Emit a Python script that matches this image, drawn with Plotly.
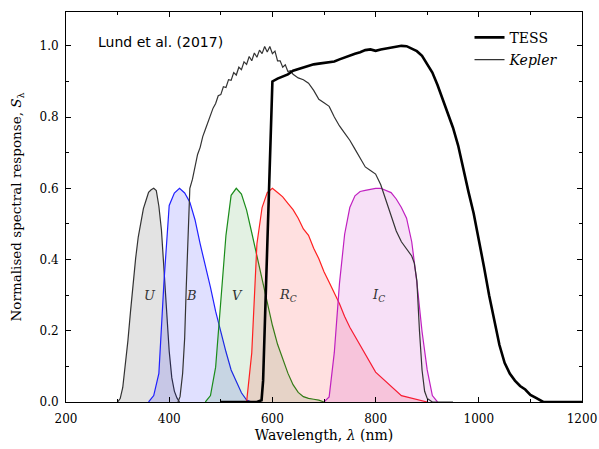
import plotly.graph_objects as go

# ---------------- data ----------------
u_wl = [300, 305, 310, 315, 320, 325, 330, 335, 340, 345, 350, 355, 360, 365, 370, 375, 380, 385, 390, 395, 400, 405, 410, 415, 420]
u_s = [0.0, 0.016, 0.068, 0.167, 0.287, 0.423, 0.560, 0.673, 0.772, 0.841, 0.905, 0.943, 0.981, 0.993, 1.0, 0.989, 0.916, 0.804, 0.625, 0.423, 0.238, 0.114, 0.051, 0.019, 0.0]

b_wl = [360, 370, 380, 390, 400, 410, 420, 430, 440, 450, 460, 470, 480, 490, 500, 510, 520, 530, 540, 550, 560]
b_s = [0.0, 0.030, 0.134, 0.567, 0.920, 0.978, 1.0, 0.978, 0.935, 0.853, 0.740, 0.640, 0.536, 0.424, 0.325, 0.235, 0.150, 0.095, 0.043, 0.009, 0.0]

v_wl = [470, 480, 490, 500, 510, 520, 530, 540, 550, 560, 570, 580, 590, 600, 610, 620, 630, 640, 650, 660, 670, 680, 690, 700]
v_s = [0.0, 0.030, 0.163, 0.458, 0.780, 0.967, 1.0, 0.973, 0.898, 0.792, 0.684, 0.574, 0.461, 0.359, 0.270, 0.197, 0.135, 0.081, 0.045, 0.025, 0.017, 0.013, 0.009, 0.0]

r_wl = [550, 560, 570, 580, 590, 600, 610, 620, 630, 640, 650, 660, 670, 680, 690, 700, 710, 720, 730, 740, 750, 800, 850, 900]
r_s = [0.0, 0.23, 0.74, 0.91, 0.98, 1.0, 0.98, 0.96, 0.93, 0.90, 0.86, 0.81, 0.78, 0.72, 0.67, 0.61, 0.56, 0.51, 0.46, 0.40, 0.35, 0.14, 0.03, 0.0]

i_wl = [700, 710, 720, 730, 740, 750, 760, 770, 780, 790, 800, 810, 820, 830, 840, 850, 860, 870, 880, 890, 900, 910, 920]
i_s = [0.0, 0.024, 0.232, 0.555, 0.785, 0.910, 0.965, 0.985, 0.990, 0.995, 1.0, 1.0, 0.990, 0.980, 0.950, 0.910, 0.860, 0.750, 0.560, 0.330, 0.150, 0.030, 0.0]

filter_peak = 0.6

kepler_wl = [417, 421, 426, 430, 433, 436, 440, 445, 450, 455, 460, 465, 470, 475, 480, 485, 490, 495, 500, 505,
             510, 515, 520, 525, 530, 535, 540, 545, 550, 555, 560, 565, 570, 575, 580, 585, 590, 595, 600, 605,
             610, 615, 620, 625, 630, 635, 640, 650, 660, 670, 680, 690, 700, 710, 720, 730, 740, 750, 760, 770,
             780, 790, 800, 810, 820, 830, 840, 850, 860, 870, 875, 880, 885, 890, 895, 900, 910, 950]
kepler_s = [0.0, 0.015, 0.08, 0.18, 0.32, 0.46, 0.60, 0.625, 0.665, 0.695, 0.715, 0.745, 0.765, 0.785, 0.805, 0.825, 0.838, 0.86, 0.863, 0.885,
            0.883, 0.905, 0.903, 0.925, 0.918, 0.94, 0.933, 0.955, 0.948, 0.97, 0.958, 0.98, 0.968, 0.988, 0.978, 0.998, 0.983, 0.998, 0.978, 0.985,
            0.958, 0.958, 0.94, 0.947, 0.928, 0.93, 0.92, 0.91, 0.905, 0.895, 0.875, 0.85, 0.84, 0.83, 0.80, 0.775, 0.755, 0.735, 0.71, 0.685,
            0.66, 0.65, 0.64, 0.61, 0.565, 0.52, 0.48, 0.45, 0.43, 0.41, 0.39, 0.34, 0.20, 0.09, 0.03, 0.01, 0.0, 0.0]

tess_wl = [500, 570, 579, 582, 586, 590, 594, 597, 600, 610, 620, 630, 640, 650, 660, 670, 680, 690, 700, 710,
           720, 730, 740, 750, 760, 770, 780, 790, 800, 810, 820, 830, 840, 850, 860, 870, 880, 890, 900, 910,
           920, 930, 940, 950, 960, 970, 980, 990, 1000, 1010, 1020, 1030, 1040, 1050, 1060, 1070, 1080, 1090, 1100, 1110,
           1125, 1200]
tess_s = [0.0, 0.0, 0.005, 0.06, 0.25, 0.45, 0.66, 0.80, 0.90, 0.908, 0.914, 0.92, 0.93, 0.935, 0.94, 0.945, 0.948, 0.95, 0.952, 0.955,
          0.956, 0.962, 0.968, 0.972, 0.978, 0.982, 0.988, 0.99, 0.986, 0.99, 0.992, 0.995, 0.998, 1.0, 0.999, 0.992, 0.985, 0.972, 0.95, 0.925,
          0.89, 0.85, 0.815, 0.77, 0.72, 0.65, 0.59, 0.53, 0.46, 0.38, 0.30, 0.23, 0.16, 0.11, 0.08, 0.06, 0.045, 0.035, 0.02, 0.012,
          0.0, 0.0]

filters = [
    ("U", u_wl, u_s, "#333333", "rgba(0,0,0,0.11)"),
    ("B", b_wl, b_s, "#2020ff", "rgba(0,0,255,0.12)"),
    ("V", v_wl, v_s, "#1a8c1a", "rgba(0,128,0,0.11)"),
    ("R", r_wl, r_s, "#ff2020", "rgba(255,0,0,0.12)"),
    ("I", i_wl, i_s, "#c020c0", "rgba(191,0,191,0.12)"),
]

label_text = ["<i>U</i>", "<i>B</i>", "<i>V</i>", "<i>R</i><sub><i>C</i></sub>", "<i>I</i><sub><i>C</i></sub>"]
label_x = [363, 444, 533, 630, 805]
label_y = [0.30, 0.30, 0.30, 0.30, 0.30]

fig = go.Figure()
for name, wl, s, lc, fc in filters:
    fig.add_trace(go.Scatter(x=wl, y=[v * filter_peak for v in s], mode="lines",
                             line=dict(color=lc, width=1.2), fill="tozeroy", fillcolor=fc,
                             showlegend=False, hoverinfo="skip"))

fig.add_trace(go.Scatter(x=kepler_wl, y=kepler_s, mode="lines", name="<i>Kepler</i>",
                         legendgroup="k", legendrank=2,
                         line=dict(color="#333333", width=1.2)))
fig.add_trace(go.Scatter(x=tess_wl, y=tess_s, mode="lines", name="TESS",
                         legendgroup="t", legendrank=1,
                         line=dict(color="black", width=2.6)))

for t, x, y in zip(label_text, label_x, label_y):
    fig.add_annotation(x=x, y=y, text=t, showarrow=False,
                       font=dict(family="DejaVu Serif", size=13, color="#333333"))

fig.add_annotation(x=0.058, y=0.923, xref="paper", yref="paper", xanchor="left", yanchor="middle",
                   text="Lund et al. (2017)", showarrow=False,
                   font=dict(family="DejaVu Sans", size=14, color="black"))

axis_common = dict(showline=True, linecolor="black", linewidth=1, mirror="ticks",
                   ticks="inside", ticklen=5, tickcolor="black", showgrid=False, zeroline=False,
                   automargin=False,
                   tickfont=dict(family="DejaVu Serif", size=12, color="black"))

fig.update_layout(
    width=599, height=449,
    margin=dict(l=66, r=17, t=12, b=47),
    plot_bgcolor="white", paper_bgcolor="white",
    xaxis=dict(range=[200, 1200], tickvals=[200, 400, 600, 800, 1000, 1200],
               minor=dict(ticks="inside", ticklen=3, dtick=100, tickcolor="black"),
               ticklabelstandoff=6,
               title=dict(text="Wavelength, <i>λ</i> (nm)", standoff=4,
                          font=dict(family="DejaVu Serif", size=14, color="black")),
               **axis_common),
    yaxis=dict(range=[0, 1.095], tickvals=[0, 0.2, 0.4, 0.6, 0.8, 1.0], tickformat=".1f",
               minor=dict(ticks="inside", ticklen=3, dtick=0.1, tickcolor="black"),
               ticklabelstandoff=4,
               title=dict(text="Normalised spectral response, <i>S</i><sub>λ</sub>", standoff=14,
                          font=dict(family="DejaVu Serif", size=13.5, color="black")),
               **axis_common),
    legend=dict(x=0.782, y=0.975, xanchor="left", yanchor="top", bgcolor="rgba(0,0,0,0)",
                traceorder="grouped", tracegroupgap=1,
                font=dict(family="DejaVu Serif", size=14, color="black")),
)

fig.write_html("out.html")
